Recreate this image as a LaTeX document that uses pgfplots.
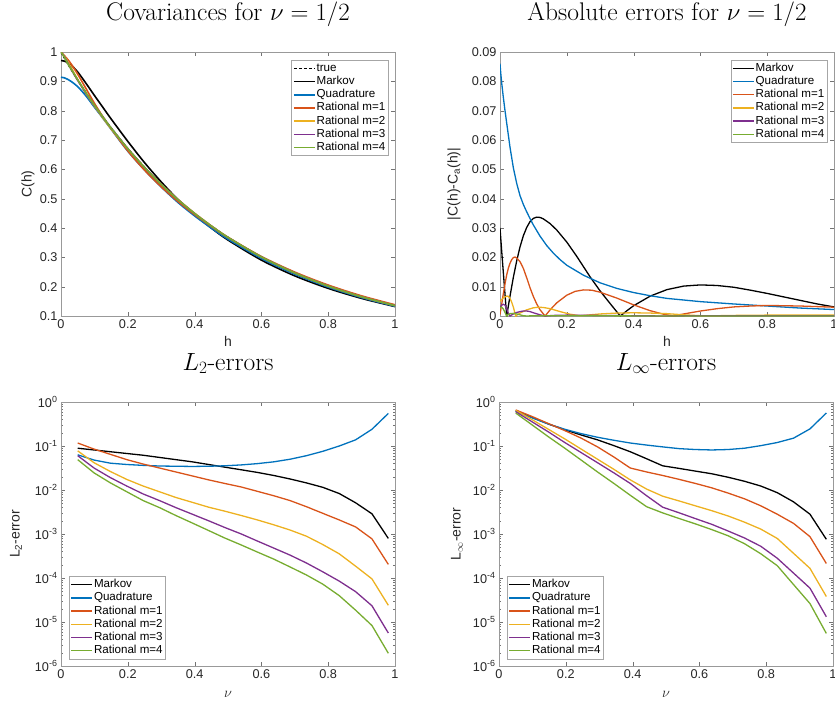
\documentclass[border=0pt]{standalone}
\usepackage{pgfplots}
\pgfplotsset{compat=1.18}
\usepackage{pgfplotstable}
\usepackage{fontspec}
\newfontfamily\hv{Liberation Sans}
\newcommand\tf{\hv\fontsize{12.7}{14}\selectfont}
\newcommand\lf{\hv\fontsize{11.6}{13}\selectfont}
\newcommand\af{\hv\fontsize{14}{16}\selectfont}
\newcommand\ttl{\fontsize{25.5}{30}\selectfont}
\definecolor{mB}{rgb}{0,0.447,0.741}
\definecolor{mR}{rgb}{0.85,0.325,0.098}
\definecolor{mY}{rgb}{0.929,0.694,0.125}
\definecolor{mP}{rgb}{0.494,0.184,0.556}
\definecolor{mG}{rgb}{0.466,0.674,0.188}

% L2 errors: nu, Markov, Quadrature, Rational m=1..4
\pgfplotstableread{
nu mk qd r1 r2 r3 r4
0.050 0.891e-1 0.631e-1 0.117 0.776e-1 0.603e-1 0.490e-1
0.099 0.813e-1 0.479e-1 0.851e-1 0.417e-1 0.316e-1 0.245e-1
0.148 0.741e-1 0.407e-1 0.646e-1 0.263e-1 0.191e-1 0.145e-1
0.197 0.676e-1 0.380e-1 0.490e-1 0.174e-1 0.123e-1 0.912e-2
0.246 0.617e-1 0.363e-1 0.389e-1 0.123e-1 0.813e-2 0.575e-2
0.295 0.550e-1 0.351e-1 0.316e-1 0.912e-2 0.575e-2 0.398e-2
0.344 0.490e-1 0.347e-1 0.257e-1 0.676e-2 0.398e-2 0.263e-2
0.393 0.437e-1 0.343e-1 0.209e-1 0.525e-2 0.282e-2 0.178e-2
0.442 0.380e-1 0.347e-1 0.170e-1 0.407e-2 0.200e-2 0.120e-2
0.490 0.331e-1 0.355e-1 0.141e-1 0.331e-2 0.141e-2 0.813e-3
0.540 0.288e-1 0.372e-1 0.117e-1 0.263e-2 0.100e-2 0.562e-3
0.588 0.251e-1 0.398e-1 0.933e-2 0.209e-2 0.692e-3 0.389e-3
0.637 0.214e-1 0.437e-1 0.741e-2 0.162e-2 0.479e-3 0.269e-3
0.686 0.178e-1 0.501e-1 0.575e-2 0.123e-2 0.331e-3 0.178e-3
0.735 0.145e-1 0.603e-1 0.417e-2 0.891e-3 0.219e-3 0.117e-3
0.784 0.115e-1 0.759e-1 0.295e-2 0.575e-3 0.138e-3 0.724e-4
0.833 0.832e-2 0.100 0.209e-2 0.355e-3 0.851e-4 0.398e-4
0.882 0.513e-2 0.138 0.145e-2 0.186e-3 0.490e-4 0.186e-4
0.931 0.288e-2 0.240 0.776e-3 0.955e-4 0.234e-4 0.832e-5
0.980 0.794e-3 0.550 0.204e-3 0.240e-4 0.562e-5 0.195e-5
}\ltwo

% L-infinity errors
\pgfplotstableread{
nu mk qd r1 r2 r3 r4
0.050 0.631 0.617 0.661 0.646 0.603 0.562
0.099 0.447 0.437 0.468 0.398 0.355 0.302
0.148 0.316 0.316 0.324 0.240 0.209 0.162
0.197 0.234 0.240 0.224 0.145 0.120 0.891e-1
0.246 0.178 0.191 0.151 0.851e-1 0.708e-1 0.479e-1
0.295 0.138 0.158 0.955e-1 0.501e-1 0.417e-1 0.257e-1
0.344 0.102 0.135 0.562e-1 0.295e-1 0.245e-1 0.141e-1
0.393 0.741e-1 0.117 0.316e-1 0.170e-1 0.141e-1 0.759e-2
0.442 0.513e-1 0.105 0.257e-1 0.105e-1 0.741e-2 0.417e-2
0.490 0.355e-1 0.955e-1 0.214e-1 0.724e-2 0.407e-2 0.302e-2
0.540 0.309e-1 0.871e-1 0.174e-1 0.562e-2 0.302e-2 0.224e-2
0.588 0.269e-1 0.832e-1 0.141e-1 0.437e-2 0.224e-2 0.170e-2
0.637 0.234e-1 0.813e-1 0.112e-1 0.339e-2 0.166e-2 0.126e-2
0.686 0.195e-1 0.832e-1 0.851e-2 0.257e-2 0.117e-2 0.912e-3
0.735 0.158e-1 0.891e-1 0.631e-2 0.186e-2 0.813e-3 0.603e-3
0.784 0.123e-1 0.102 0.437e-2 0.129e-2 0.525e-3 0.355e-3
0.833 0.871e-2 0.120 0.282e-2 0.794e-3 0.282e-3 0.191e-3
0.882 0.537e-2 0.151 0.174e-2 0.363e-3 0.129e-3 0.708e-4
0.931 0.282e-2 0.245 0.871e-3 0.166e-3 0.589e-4 0.263e-4
0.980 0.759e-3 0.562 0.214e-3 0.380e-4 0.132e-4 0.550e-5
}\linf

\pgfplotsset{
  mat/.style={
    scale only axis, width=334pt, height=264pt,
    axis line style={black!40}, tick style={black!55},
    major tick length=4pt, minor tick length=2pt,
    tick label style={font=\tf, text=black!85},
    label style={font=\af, text=black!85},
    title style={font=\ttl, anchor=base, at={(0.5,1)}, yshift=26pt},
    legend style={font=\lf, draw=black!35, cells={anchor=west},
      row sep=0pt, inner sep=1.5pt,
      nodes={inner sep=1pt, text height=8.6pt, text depth=2.6pt}},
    legend image code/.code={\draw[##1] (0pt,0pt) -- (21pt,0pt);},
    xmin=0, xmax=1, xtick={0,0.2,0.4,0.6,0.8,1},
    xticklabels={0,0.2,0.4,0.6,0.8,1},
    scaled ticks=false,
  },
  logy/.style={
    ymin=1e-6, ymax=1,
    ytick={1e-6,1e-5,1e-4,1e-3,1e-2,1e-1,1},
    yticklabels={10\textsuperscript{-6},10\textsuperscript{-5},10\textsuperscript{-4},10\textsuperscript{-3},10\textsuperscript{-2},10\textsuperscript{-1},10\textsuperscript{0}},
    minor ytick={2e-6,3e-6,4e-6,5e-6,6e-6,7e-6,8e-6,9e-6,
      2e-5,3e-5,4e-5,5e-5,6e-5,7e-5,8e-5,9e-5,
      2e-4,3e-4,4e-4,5e-4,6e-4,7e-4,8e-4,9e-4,
      2e-3,3e-3,4e-3,5e-3,6e-3,7e-3,8e-3,9e-3,
      2e-2,3e-2,4e-2,5e-2,6e-2,7e-2,8e-2,9e-2,
      0.2,0.3,0.4,0.5,0.6,0.7,0.8,0.9},
    every axis plot/.append style={line width=1.3pt},
    legend style={at={(0,0)}, anchor=south west, xshift=8pt, yshift=7pt},
    xlabel={$\nu$},
    xlabel style={at={([yshift=-28pt]axis description cs:0.5,0)}, anchor=center, font=\fontsize{15}{17}\selectfont},
  },
}

\begin{document}
\begin{tikzpicture}
\useasboundingbox (0,0) rectangle (835pt,-704pt);

% ---- top left: covariances
\begin{axis}[mat, at={(61pt,-316pt)}, anchor=south west,
  title={Covariances for $\nu=1/2$},
  ymin=0.1, ymax=1, ytick={0.1,0.2,0.3,0.4,0.5,0.6,0.7,0.8,0.9,1},
  yticklabels={0.1,0.2,0.3,0.4,0.5,0.6,0.7,0.8,0.9,1},
  xlabel={h}, ylabel={C(h)},
  xlabel style={at={([yshift=-25pt]axis description cs:0.5,0)}, anchor=center},
  ylabel style={at={([xshift=-33pt]axis description cs:0,0.5)}, anchor=center},
  legend style={at={(1,1)}, anchor=north east, xshift=-7pt, yshift=-8pt},
  every axis plot/.append style={line width=1.6pt, smooth},
]
\addplot[black, dash pattern=on 3pt off 2pt] coordinates {(0,1)(0.01,0.9802)(0.02,0.9608)(0.03,0.9418)(0.05,0.9048)(0.075,0.8607)(0.1,0.8187)(0.125,0.7788)(0.15,0.7408)(0.2,0.6703)(0.25,0.6065)(0.3,0.5488)(0.35,0.4966)(0.4,0.4493)(0.45,0.4066)(0.5,0.3679)(0.6,0.3012)(0.7,0.2466)(0.8,0.2019)(0.9,0.1653)(1,0.1353)};
\addplot[black] coordinates {(0,0.971)(0.01,0.969)(0.02,0.964)(0.03,0.956)(0.05,0.932)(0.075,0.893)(0.1,0.852)(0.125,0.812)(0.15,0.772)(0.2,0.6955)(0.25,0.623)(0.3,0.5573)(0.35,0.4975)(0.4,0.4459)(0.45,0.3998)(0.5,0.3589)(0.6,0.2906)(0.7,0.2368)(0.8,0.1942)(0.9,0.1600)(1,0.1322)};
\addplot[mB] coordinates {(0,0.914)(0.01,0.912)(0.02,0.907)(0.03,0.900)(0.05,0.882)(0.075,0.850)(0.1,0.812)(0.125,0.775)(0.15,0.737)(0.2,0.662)(0.25,0.598)(0.3,0.540)(0.35,0.4873)(0.4,0.4413)(0.45,0.3997)(0.5,0.3619)(0.6,0.2963)(0.7,0.2425)(0.8,0.1985)(0.9,0.1626)(1,0.1331)};
\addplot[mR] coordinates {(0,1)(0.01,0.9877)(0.02,0.9748)(0.03,0.9598)(0.05,0.9246)(0.075,0.8752)(0.1,0.8253)(0.125,0.7800)(0.15,0.7388)(0.2,0.6631)(0.25,0.5976)(0.3,0.5408)(0.35,0.4906)(0.4,0.4456)(0.45,0.4049)(0.5,0.3676)(0.6,0.3029)(0.7,0.2497)(0.8,0.2055)(0.9,0.1687)(1,0.1383)};
\addplot[mY] coordinates {(0,1)(0.01,0.9864)(0.02,0.9676)(0.03,0.9478)(0.05,0.9056)(0.075,0.8585)(0.1,0.8159)(0.125,0.7759)(0.15,0.7383)(0.2,0.6695)(0.25,0.6068)(0.3,0.5495)(0.35,0.4976)(0.4,0.4504)(0.45,0.4076)(0.5,0.3687)(0.6,0.3013)(0.7,0.2468)(0.8,0.2022)(0.9,0.1656)(1,0.1356)};
\addplot[mP] coordinates {(0,1)(0.01,0.9842)(0.02,0.9633)(0.03,0.9418)(0.05,0.9036)(0.075,0.8590)(0.1,0.8176)(0.125,0.7786)(0.15,0.7410)(0.2,0.6706)(0.25,0.6067)(0.3,0.5490)(0.35,0.4967)(0.4,0.4494)(0.45,0.4066)(0.5,0.3679)(0.6,0.3013)(0.7,0.2467)(0.8,0.2020)(0.9,0.1654)(1,0.1354)};
\addplot[mG] coordinates {(0,1)(0.01,0.9826)(0.02,0.9608)(0.03,0.9426)(0.05,0.9055)(0.075,0.8609)(0.1,0.8188)(0.125,0.7790)(0.15,0.7410)(0.2,0.6705)(0.25,0.6066)(0.3,0.5489)(0.35,0.4966)(0.4,0.4493)(0.45,0.4066)(0.5,0.3679)(0.6,0.3012)(0.7,0.2466)(0.8,0.2019)(0.9,0.1653)(1,0.1353)};
\legend{true,Markov,Quadrature,Rational m=1,Rational m=2,Rational m=3,Rational m=4}
\end{axis}

% ---- top right: absolute errors
\begin{axis}[mat, at={(500pt,-316pt)}, anchor=south west,
  title={Absolute errors for $\nu=1/2$},
  ymin=0, ymax=0.09, ytick={0,0.01,0.02,0.03,0.04,0.05,0.06,0.07,0.08,0.09},
  yticklabels={0,0.01,0.02,0.03,0.04,0.05,0.06,0.07,0.08,0.09},
  xlabel={h}, ylabel={|C(h)-C\textsubscript{a}(h)|},
  xlabel style={at={([yshift=-25pt]axis description cs:0.5,0)}, anchor=center},
  ylabel style={at={([xshift=-46pt]axis description cs:0,0.5)}, anchor=center},
  legend style={at={(1,1)}, anchor=north east, xshift=-7pt, yshift=-8pt},
  every axis plot/.append style={line width=1.3pt},
]
\addplot[black] coordinates {(0,0.0300)(0.005,0.0222)(0.01,0.0148)(0.015,0.0074)(0.02,0)(0.03,0.0068)(0.04,0.0132)(0.05,0.0188)(0.06,0.0236)(0.07,0.0274)(0.08,0.0302)(0.09,0.0322)(0.10,0.0333)(0.11,0.0337)(0.12,0.0336)(0.13,0.0331)(0.15,0.0315)(0.17,0.0293)(0.20,0.0252)(0.23,0.0203)(0.25,0.0168)(0.27,0.0133)(0.30,0.0085)(0.33,0.0042)(0.36,0)(0.38,0.0018)(0.40,0.0035)(0.45,0.0068)(0.50,0.0090)(0.55,0.0102)(0.60,0.0106)(0.65,0.0104)(0.70,0.0098)(0.75,0.0088)(0.80,0.0077)(0.85,0.0065)(0.90,0.0053)(0.95,0.0041)(1.00,0.0031)};
\addplot[mB] coordinates {(0,0.086)(0.0025,0.0825)(0.005,0.0795)(0.01,0.0745)(0.015,0.070)(0.02,0.0658)(0.03,0.0575)(0.04,0.0505)(0.05,0.0452)(0.06,0.041)(0.07,0.038)(0.08,0.0355)(0.09,0.0332)(0.10,0.0310)(0.12,0.0272)(0.14,0.0240)(0.16,0.0214)(0.18,0.0192)(0.20,0.0173)(0.25,0.0139)(0.30,0.0113)(0.35,0.0094)(0.40,0.0080)(0.45,0.0069)(0.50,0.0060)(0.60,0.0049)(0.70,0.0041)(0.80,0.0034)(0.90,0.0027)(1.00,0.0022)};
\addplot[mR] coordinates {(0,0.0005)(0.005,0.0040)(0.01,0.0076)(0.015,0.0110)(0.02,0.0140)(0.025,0.0163)(0.03,0.0180)(0.035,0.0192)(0.04,0.0199)(0.045,0.0201)(0.05,0.0198)(0.06,0.0185)(0.07,0.0162)(0.08,0.0130)(0.09,0.0096)(0.10,0.0066)(0.11,0.0041)(0.12,0.0021)(0.135,0)(0.15,0.0021)(0.17,0.0045)(0.20,0.0071)(0.225,0.0084)(0.25,0.0089)(0.275,0.0088)(0.30,0.0081)(0.35,0.0061)(0.40,0.0038)(0.45,0.0018)(0.49,0.0006)(0.52,0)(0.55,0.0007)(0.60,0.0017)(0.65,0.0025)(0.70,0.0031)(0.75,0.0034)(0.80,0.0036)(0.85,0.0035)(0.90,0.0034)(0.95,0.0032)(1.00,0.0030)};
\addplot[mY] coordinates {(0,0.0050)(0.01,0.0062)(0.02,0.0068)(0.025,0.0067)(0.03,0.0060)(0.035,0.0047)(0.04,0.0030)(0.047,0)(0.06,0.0010)(0.08,0.0021)(0.10,0.0028)(0.115,0.0030)(0.13,0.0029)(0.15,0.0025)(0.18,0.0015)(0.21,0.0006)(0.24,0.0001)(0.27,0.0004)(0.30,0.0007)(0.35,0.0010)(0.40,0.0011)(0.45,0.0010)(0.50,0.0008)(0.55,0.0004)(0.60,0.0001)(0.65,0.0001)(0.70,0.0002)(0.80,0.0003)(0.90,0.0003)(1.00,0.0003)};
\addplot[mP] coordinates {(0,0.0030)(0.005,0.0037)(0.01,0.0040)(0.015,0.0037)(0.02,0.0025)(0.025,0.0010)(0.03,0)(0.04,0.0007)(0.05,0.0012)(0.06,0.0015)(0.07,0.0017)(0.08,0.0017)(0.09,0.0015)(0.10,0.0011)(0.12,0.0004)(0.135,0)(0.16,0.0002)(0.20,0.0003)(0.30,0.0002)(0.40,0.0001)(0.50,0)(0.60,0.0001)(1.00,0.0001)};
\addplot[mG] coordinates {(0,0.0028)(0.005,0.0030)(0.01,0.0024)(0.015,0.0012)(0.02,0)(0.025,0.0005)(0.03,0.0008)(0.04,0.0009)(0.05,0.0007)(0.06,0.0004)(0.07,0.0001)(0.08,0)(0.10,0.0001)(0.20,0.0001)(0.50,0)(1.00,0)};
\legend{Markov,Quadrature,Rational m=1,Rational m=2,Rational m=3,Rational m=4}
\end{axis}

% ---- bottom left: L2 errors
\begin{axis}[mat, ymode=log, logy, at={(61pt,-666pt)}, anchor=south west,
  title={$L_2$-errors},
  ylabel={L\textsubscript{2}-error},
  ylabel style={at={([xshift=-45pt]axis description cs:0,0.5)}, anchor=center},
]
\addplot[black] table[x=nu, y=mk] {\ltwo};
\addplot[mB] table[x=nu, y=qd] {\ltwo};
\addplot[mR] table[x=nu, y=r1] {\ltwo};
\addplot[mY] table[x=nu, y=r2] {\ltwo};
\addplot[mP] table[x=nu, y=r3] {\ltwo};
\addplot[mG] table[x=nu, y=r4] {\ltwo};
\legend{Markov,Quadrature,Rational m=1,Rational m=2,Rational m=3,Rational m=4}
\end{axis}

% ---- bottom right: L-infinity errors
\begin{axis}[mat, ymode=log, logy, at={(499pt,-666pt)}, anchor=south west,
  title={$L_\infty$-errors},
  ylabel={L\textsubscript{$\infty$}-error},
  ylabel style={at={([xshift=-42pt]axis description cs:0,0.5)}, anchor=center},
]
\addplot[black] table[x=nu, y=mk] {\linf};
\addplot[mB] table[x=nu, y=qd] {\linf};
\addplot[mR] table[x=nu, y=r1] {\linf};
\addplot[mY] table[x=nu, y=r2] {\linf};
\addplot[mP] table[x=nu, y=r3] {\linf};
\addplot[mG] table[x=nu, y=r4] {\linf};
\legend{Markov,Quadrature,Rational m=1,Rational m=2,Rational m=3,Rational m=4}
\end{axis}
\end{tikzpicture}
\end{document}
